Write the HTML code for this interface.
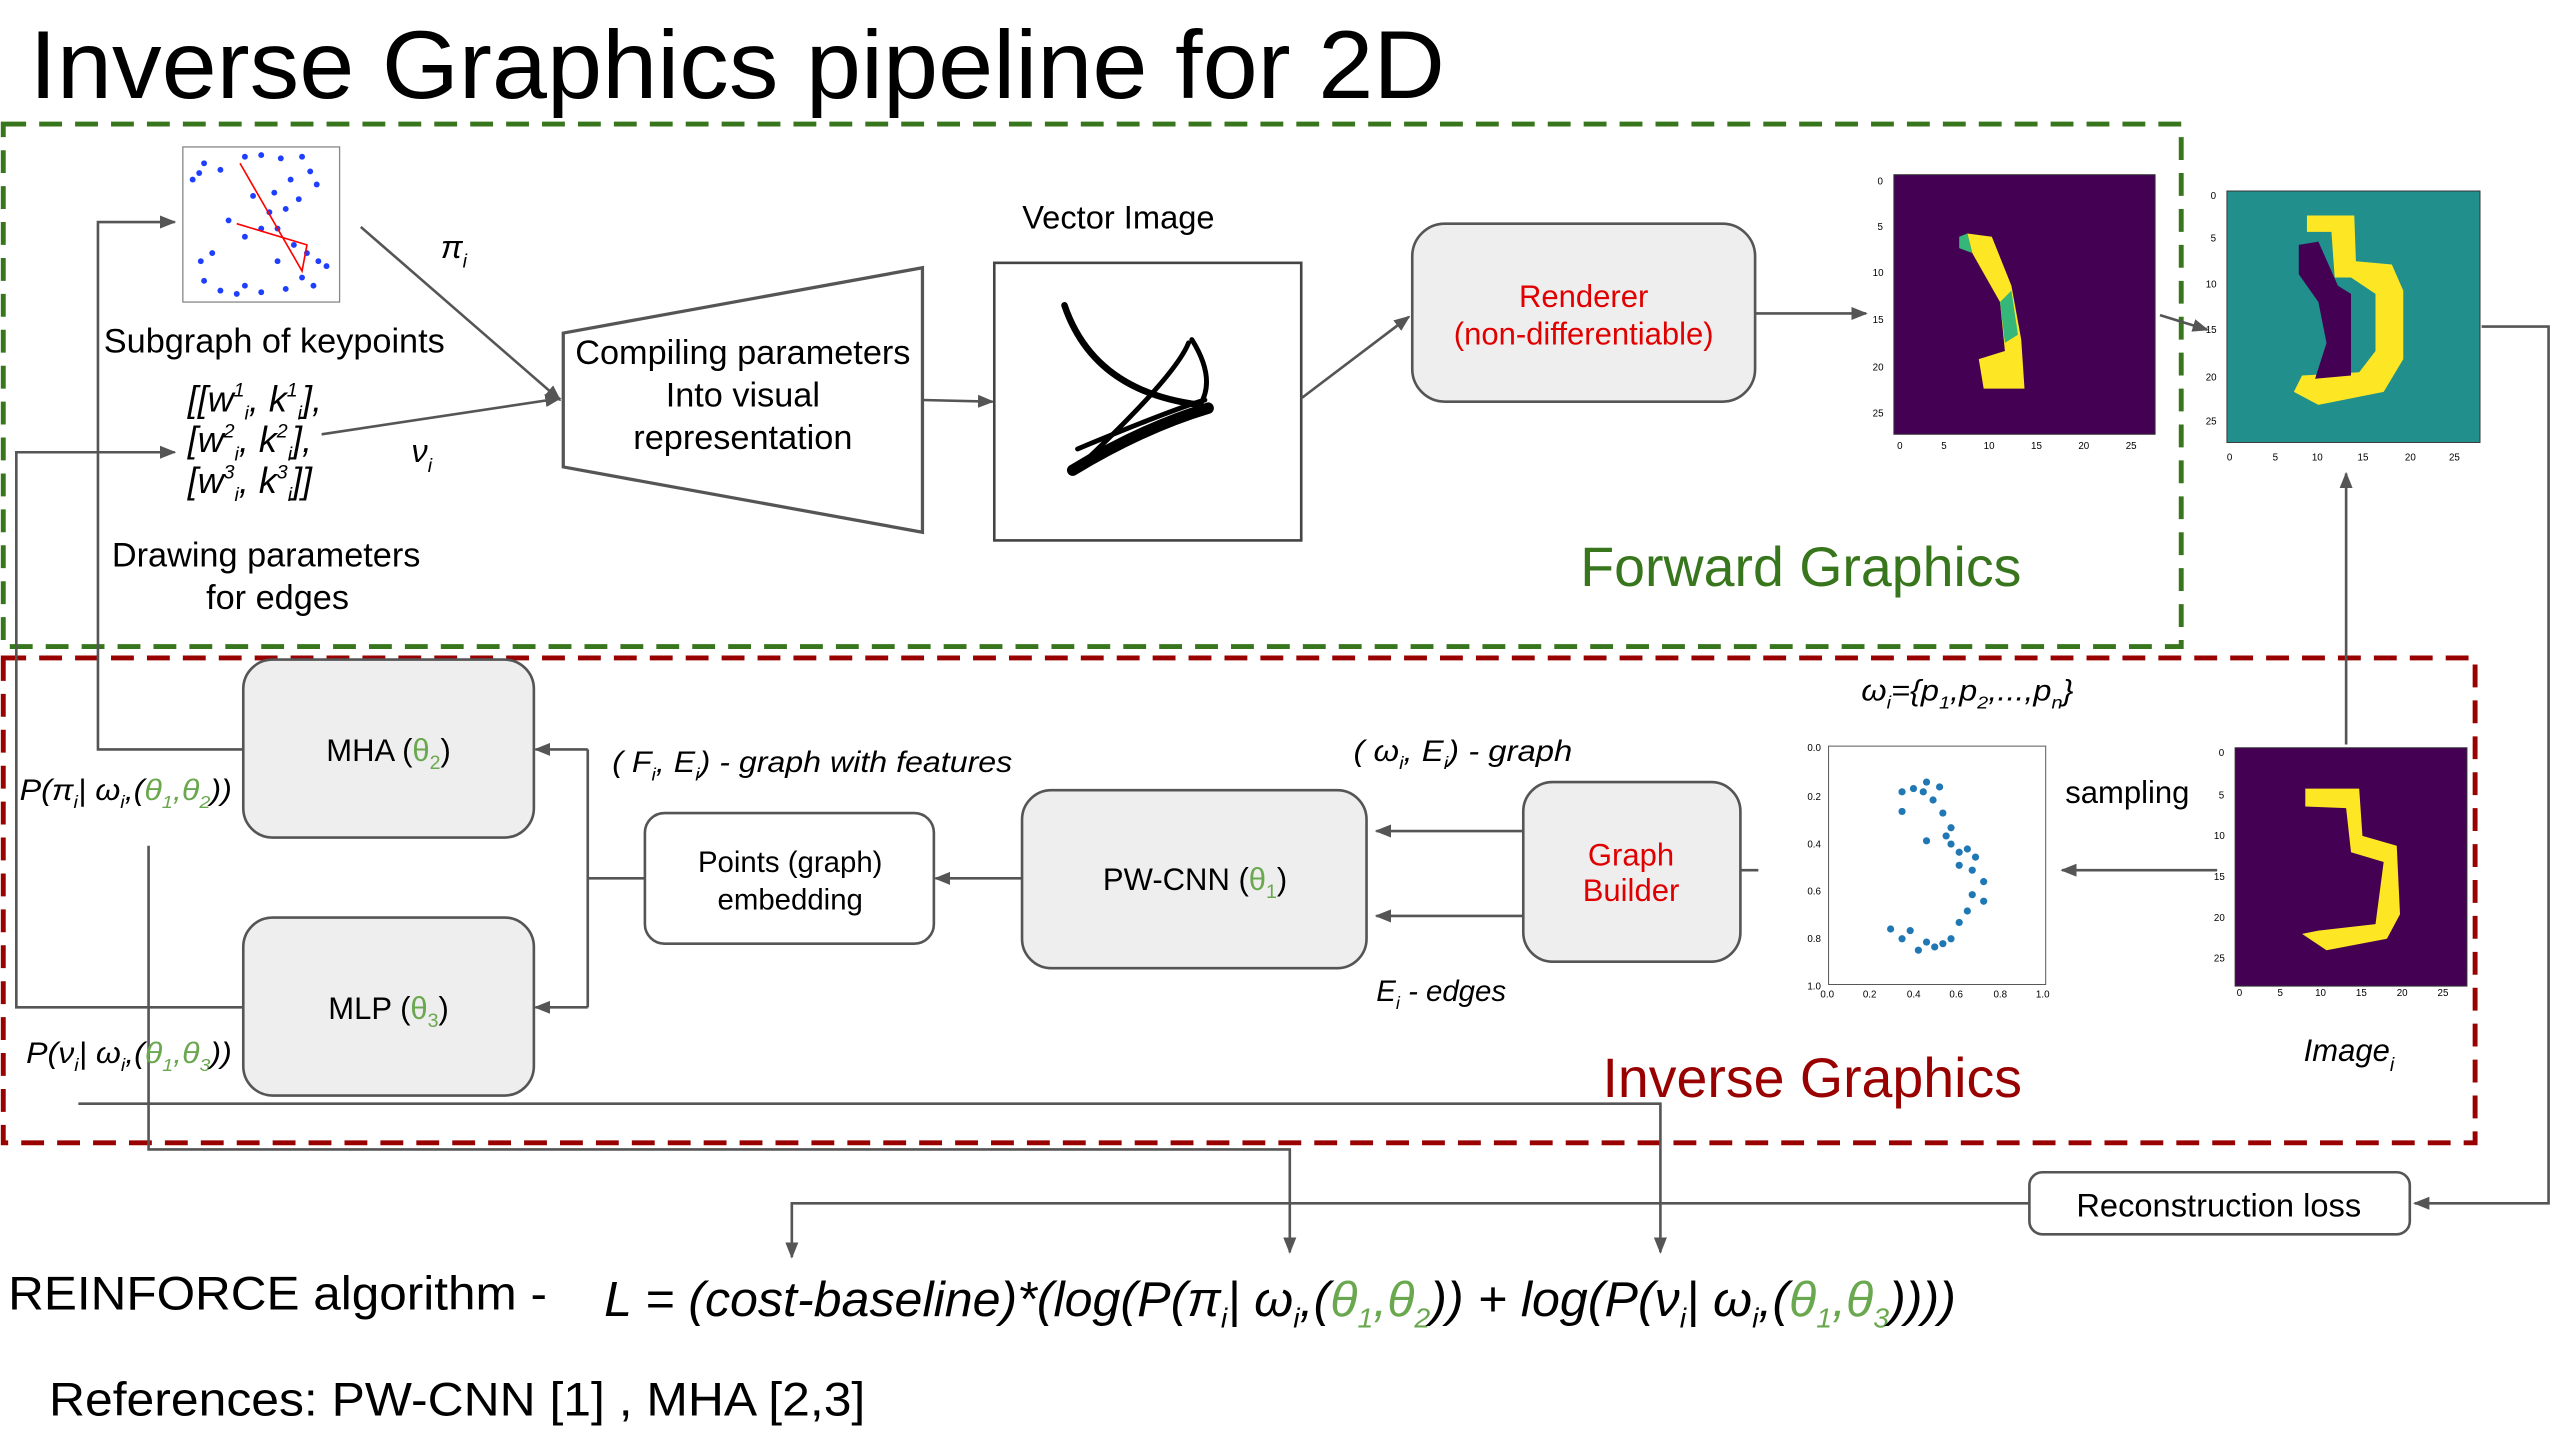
<!DOCTYPE html>
<html><head><meta charset="utf-8"><style>
html,body{margin:0;padding:0;background:#fff;}
svg{display:block;}
text{font-family:"Liberation Sans",Arial,sans-serif;fill:#000;}
.it{font-style:italic;}
.g{fill:#6aa84f;}
</style></head><body>
<svg width="2560" height="1440" viewBox="0 0 1568 882" xmlns="http://www.w3.org/2000/svg">
<defs>
<marker id="a" markerWidth="10" markerHeight="8" refX="9" refY="4" orient="auto" markerUnits="userSpaceOnUse"><path d="M0,0 L10,4 L0,8 z" fill="#555"/></marker>
</defs>
<text x="18" y="60" font-size="59" textLength="867" lengthAdjust="spacingAndGlyphs">Inverse Graphics pipeline for 2D</text>

<rect x="2" y="76" width="1334" height="320" fill="none" stroke="#38761d" stroke-width="3" stroke-dasharray="14 8"/>
<rect x="2" y="403" width="1514" height="297" fill="none" stroke="#990000" stroke-width="3" stroke-dasharray="14 8"/>

<rect x="112" y="90" width="96" height="95" fill="#fff" stroke="#888" stroke-width="0.8"/>
<g fill="#1f3fff">
<circle cx="125" cy="100" r="1.8"/><circle cx="135" cy="104" r="1.8"/><circle cx="150" cy="96" r="1.8"/><circle cx="160" cy="95" r="1.8"/><circle cx="172" cy="97" r="1.8"/><circle cx="185" cy="96" r="1.8"/><circle cx="190" cy="105" r="1.8"/><circle cx="194" cy="113" r="1.8"/><circle cx="118" cy="110" r="1.8"/><circle cx="122" cy="106" r="1.8"/><circle cx="178" cy="110" r="1.8"/><circle cx="183" cy="122" r="1.8"/><circle cx="175" cy="128" r="1.8"/><circle cx="165" cy="130" r="1.8"/><circle cx="160" cy="140" r="1.8"/><circle cx="150" cy="145" r="1.8"/><circle cx="170" cy="140" r="1.8"/><circle cx="180" cy="150" r="1.8"/><circle cx="188" cy="155" r="1.8"/><circle cx="195" cy="160" r="1.8"/><circle cx="200" cy="163" r="1.8"/><circle cx="185" cy="170" r="1.8"/><circle cx="175" cy="177" r="1.8"/><circle cx="160" cy="179" r="1.8"/><circle cx="145" cy="180" r="1.8"/><circle cx="135" cy="178" r="1.8"/><circle cx="125" cy="172" r="1.8"/><circle cx="123" cy="160" r="1.8"/><circle cx="130" cy="155" r="1.8"/><circle cx="140" cy="135" r="1.8"/><circle cx="155" cy="120" r="1.8"/><circle cx="168" cy="118" r="1.8"/><circle cx="192" cy="175" r="1.8"/><circle cx="150" cy="175" r="1.8"/><circle cx="170" cy="160" r="1.8"/>
</g>
<polyline points="147,100 185,166 188,150 145,137" fill="none" stroke="#f00" stroke-width="1"/>
<text x="168" y="216" font-size="21" text-anchor="middle">Subgraph of keypoints</text>

<text class="it" font-size="22"><tspan x="115" y="252">[[w<tspan font-size="12" dy="-9">1</tspan><tspan font-size="12" dy="14">i</tspan><tspan dy="-5">, k</tspan><tspan font-size="12" dy="-9">1</tspan><tspan font-size="12" dy="14">i</tspan><tspan dy="-5">],</tspan></tspan></text>
<text class="it" font-size="22"><tspan x="115" y="277">[w<tspan font-size="12" dy="-9">2</tspan><tspan font-size="12" dy="14">i</tspan><tspan dy="-5">, k</tspan><tspan font-size="12" dy="-9">2</tspan><tspan font-size="12" dy="14">i</tspan><tspan dy="-5">],</tspan></tspan></text>
<text class="it" font-size="22"><tspan x="115" y="302">[w<tspan font-size="12" dy="-9">3</tspan><tspan font-size="12" dy="14">i</tspan><tspan dy="-5">, k</tspan><tspan font-size="12" dy="-9">3</tspan><tspan font-size="12" dy="14">i</tspan><tspan dy="-5">]]</tspan></tspan></text>
<text x="163" y="347" font-size="21" text-anchor="middle">Drawing parameters</text>
<text x="170" y="373" font-size="21" text-anchor="middle">for edges</text>
<text class="it" x="270" y="158" font-size="20">π<tspan font-size="12" dy="6">i</tspan></text>
<text class="it" x="252" y="283" font-size="20">ν<tspan font-size="12" dy="6">i</tspan></text>

<g stroke="#555" stroke-width="1.6" fill="none">
<line x1="221" y1="139" x2="343" y2="245" marker-end="url(#a)"/>
<line x1="197" y1="266" x2="343" y2="244" marker-end="url(#a)"/>
<polygon points="345,204 565,164 565,326 345,286" stroke-width="2"/>
<line x1="565" y1="245" x2="608" y2="246" marker-end="url(#a)"/>
<rect x="609" y="161" width="188" height="170" stroke="#444"/>
<line x1="797" y1="244" x2="863" y2="194" marker-end="url(#a)"/>
<line x1="1075" y1="192" x2="1143" y2="192" marker-end="url(#a)"/>
<line x1="1323" y1="193" x2="1352" y2="202" marker-end="url(#a)"/>
<polyline points="1520,200 1561,200 1561,737 1479,737" marker-end="url(#a)"/>
<line x1="1437" y1="456" x2="1437" y2="290" marker-end="url(#a)"/>
<line x1="1358" y1="533" x2="1263" y2="533" marker-end="url(#a)"/>
<line x1="1077" y1="533" x2="1041" y2="533" marker-end="url(#a)"/>
<line x1="933" y1="509" x2="843" y2="509" marker-end="url(#a)"/>
<line x1="933" y1="561" x2="843" y2="561" marker-end="url(#a)"/>
<line x1="626" y1="538" x2="573" y2="538" marker-end="url(#a)"/>
<polyline points="395,538 360,538"/>
<polyline points="360,459 360,617"/>
<line x1="360" y1="459" x2="328" y2="459" marker-end="url(#a)"/>
<line x1="360" y1="617" x2="328" y2="617" marker-end="url(#a)"/>
<polyline points="149,459 60,459 60,136 107,136" marker-end="url(#a)"/>
<polyline points="149,617 10,617 10,277 107,277" marker-end="url(#a)"/>
<polyline points="91,518 91,704 790,704 790,767" marker-end="url(#a)"/>
<polyline points="48,676 1017,676 1017,767" marker-end="url(#a)"/>
<polyline points="1243,737 485,737 485,770" marker-end="url(#a)"/>
</g>

<g stroke="#000" fill="none" stroke-linecap="round">
<path d="M652,187 Q670,240 735,248" stroke-width="4"/>
<path d="M735,248 Q745,232 730,208" stroke-width="3"/>
<path d="M657,288 Q700,262 740,250" stroke-width="7"/>
<path d="M665,282 Q720,230 728,210" stroke-width="3"/>
<path d="M660,275 Q720,250 738,245" stroke-width="3"/>
</g>
<text x="685" y="140" font-size="20" text-anchor="middle">Vector Image</text>
<text x="455" y="223" font-size="21" text-anchor="middle">Compiling parameters</text>
<text x="455" y="249" font-size="21" text-anchor="middle">Into visual</text>
<text x="455" y="275" font-size="21" text-anchor="middle">representation</text>

<g fill="#eeeeee" stroke="#555" stroke-width="1.6">
<rect x="865" y="137" width="210" height="109" rx="20"/>
<rect x="933" y="479" width="133" height="110" rx="18"/>
<rect x="626" y="484" width="211" height="109" rx="18"/>
<rect x="149" y="404" width="178" height="109" rx="18"/>
<rect x="149" y="562" width="178" height="109" rx="18"/>
<rect x="395" y="498" width="177" height="80" rx="12" fill="#fff"/>
<rect x="1243" y="718" width="233" height="38" rx="8" fill="#fff"/>
</g>
<text x="970" y="188" font-size="19" text-anchor="middle" style="fill:#e00000">Renderer</text>
<text x="970" y="211" font-size="19" text-anchor="middle" style="fill:#e00000">(non-differentiable)</text>
<text x="999" y="530" font-size="19" text-anchor="middle" style="fill:#e00000">Graph</text>
<text x="999" y="552" font-size="19" text-anchor="middle" style="fill:#e00000">Builder</text>
<text x="732" y="545" font-size="19" text-anchor="middle">PW-CNN (<tspan class="g">θ</tspan><tspan class="g" font-size="12" dy="5">1</tspan><tspan dy="-5">)</tspan></text>
<text x="484" y="534" font-size="18" text-anchor="middle">Points (graph)</text>
<text x="484" y="557" font-size="18" text-anchor="middle">embedding</text>
<text x="238" y="466" font-size="19" text-anchor="middle">MHA (<tspan class="g">θ</tspan><tspan class="g" font-size="12" dy="5">2</tspan><tspan dy="-5">)</tspan></text>
<text x="238" y="624" font-size="19" text-anchor="middle">MLP (<tspan class="g">θ</tspan><tspan class="g" font-size="12" dy="5">3</tspan><tspan dy="-5">)</tspan></text>
<text x="1359" y="745" font-size="20" text-anchor="middle">Reconstruction loss</text>

<text class="it" x="375" y="473" font-size="18" textLength="245" lengthAdjust="spacingAndGlyphs">( F<tspan font-size="11" dy="5">i</tspan><tspan dy="-5">, E</tspan><tspan font-size="11" dy="5">i</tspan><tspan dy="-5">) - graph with features</tspan></text>
<text class="it" x="829" y="466" font-size="18" textLength="134" lengthAdjust="spacingAndGlyphs">( ω<tspan font-size="11" dy="5">i</tspan><tspan dy="-5">, E</tspan><tspan font-size="11" dy="5">i</tspan><tspan dy="-5">) - graph</tspan></text>
<text class="it" x="843" y="613" font-size="18">E<tspan font-size="11" dy="5">i</tspan><tspan dy="-5"> - edges</tspan></text>
<text class="it" x="1140" y="429" font-size="18" textLength="130" lengthAdjust="spacingAndGlyphs">ω<tspan font-size="11" dy="5">i</tspan><tspan dy="-5">={p</tspan><tspan font-size="11" dy="5">1</tspan><tspan dy="-5">,p</tspan><tspan font-size="11" dy="5">2</tspan><tspan dy="-5">,...,p</tspan><tspan font-size="11" dy="5">n</tspan><tspan dy="-5">}</tspan></text>
<text x="1303" y="492" font-size="19" text-anchor="middle">sampling</text>
<text class="it" x="1411" y="650" font-size="19">Image<tspan font-size="12" dy="6">i</tspan></text>
<text class="it" x="12" y="490" font-size="18" textLength="130" lengthAdjust="spacingAndGlyphs">P(π<tspan font-size="11" dy="5">i</tspan><tspan dy="-5">| ω</tspan><tspan font-size="11" dy="5">i</tspan><tspan dy="-5">,(</tspan><tspan class="g">θ</tspan><tspan class="g" font-size="11" dy="5">1</tspan><tspan class="g" dy="-5">,θ</tspan><tspan class="g" font-size="11" dy="5">2</tspan><tspan dy="-5">))</tspan></text>
<text class="it" x="16" y="651" font-size="18" textLength="126" lengthAdjust="spacingAndGlyphs">P(ν<tspan font-size="11" dy="5">i</tspan><tspan dy="-5">| ω</tspan><tspan font-size="11" dy="5">i</tspan><tspan dy="-5">,(</tspan><tspan class="g">θ</tspan><tspan class="g" font-size="11" dy="5">1</tspan><tspan class="g" dy="-5">,θ</tspan><tspan class="g" font-size="11" dy="5">3</tspan><tspan dy="-5">))</tspan></text>

<text x="1103" y="359" font-size="34" text-anchor="middle" style="fill:#38761d">Forward Graphics</text>
<text x="1110" y="672" font-size="34" text-anchor="middle" style="fill:#990000">Inverse Graphics</text>

<g font-size="6" fill="#000">
<rect x="1160" y="107" width="160" height="159" fill="#440154" stroke="#333" stroke-width="0.6"/>
<path d="M1205,143 L1220,145 L1232,175 L1238,208 L1240,238 L1215,238 L1212,220 L1228,215 L1225,185 L1208,155 Z" fill="#fde725"/>
<path d="M1200,145 L1205,143 L1208,155 L1200,152 Z M1225,185 L1232,178 L1236,205 L1228,210 Z" fill="#35b779"/>
<text x="1150" y="113">0</text><text x="1150" y="141">5</text><text x="1147" y="169">10</text><text x="1147" y="198">15</text><text x="1147" y="227">20</text><text x="1147" y="255">25</text>
<text x="1162" y="275">0</text><text x="1189" y="275">5</text><text x="1215" y="275">10</text><text x="1244" y="275">15</text><text x="1273" y="275">20</text><text x="1302" y="275">25</text>

<rect x="1364" y="117" width="155" height="154" fill="#21908d" stroke="#333" stroke-width="0.6"/>
<path d="M1413,132 L1442,132 L1443,160 L1465,162 L1472,178 L1472,220 L1460,240 L1420,248 L1405,240 L1410,230 L1445,228 L1455,215 L1455,180 L1440,170 L1430,170 L1428,142 L1413,142 Z" fill="#fde725"/>
<path d="M1408,150 L1420,148 L1432,175 L1440,180 L1440,230 L1418,232 L1425,210 L1420,185 L1408,168 Z" fill="#440154"/>
<text x="1354" y="122">0</text><text x="1354" y="148">5</text><text x="1351" y="176">10</text><text x="1351" y="204">15</text><text x="1351" y="233">20</text><text x="1351" y="260">25</text>
<text x="1364" y="282">0</text><text x="1392" y="282">5</text><text x="1416" y="282">10</text><text x="1444" y="282">15</text><text x="1473" y="282">20</text><text x="1500" y="282">25</text>

<rect x="1369" y="458" width="142" height="146" fill="#440154" stroke="#333" stroke-width="0.6"/>
<path d="M1412,483 L1445,483 L1447,512 L1468,518 L1470,560 L1462,575 L1425,582 L1410,572 L1420,570 L1455,566 L1460,528 L1440,522 L1437,495 L1412,494 Z" fill="#fde725"/>
<text x="1359" y="463">0</text><text x="1359" y="489">5</text><text x="1356" y="514">10</text><text x="1356" y="539">15</text><text x="1356" y="564">20</text><text x="1356" y="589">25</text>
<text x="1370" y="610">0</text><text x="1395" y="610">5</text><text x="1418" y="610">10</text><text x="1443" y="610">15</text><text x="1468" y="610">20</text><text x="1493" y="610">25</text>

<rect x="1120" y="457" width="133" height="146" fill="#fff" stroke="#555" stroke-width="0.6"/>
<text x="1107" y="460">0.0</text><text x="1107" y="490">0.2</text><text x="1107" y="519">0.4</text><text x="1107" y="548">0.6</text><text x="1107" y="577">0.8</text><text x="1107" y="606">1.0</text>
<text x="1115" y="611">0.0</text><text x="1141" y="611">0.2</text><text x="1168" y="611">0.4</text><text x="1194" y="611">0.6</text><text x="1221" y="611">0.8</text><text x="1247" y="611">1.0</text>
</g>
<g fill="#1f77b4">
<circle cx="1165" cy="485" r="2.2"/><circle cx="1172" cy="483" r="2.2"/><circle cx="1180" cy="479" r="2.2"/><circle cx="1188" cy="482" r="2.2"/><circle cx="1184" cy="490" r="2.2"/><circle cx="1165" cy="497" r="2.2"/><circle cx="1190" cy="498" r="2.2"/><circle cx="1195" cy="507" r="2.2"/><circle cx="1192" cy="512" r="2.2"/><circle cx="1180" cy="515" r="2.2"/><circle cx="1195" cy="517" r="2.2"/><circle cx="1205" cy="520" r="2.2"/><circle cx="1200" cy="522" r="2.2"/><circle cx="1210" cy="525" r="2.2"/><circle cx="1208" cy="533" r="2.2"/><circle cx="1215" cy="540" r="2.2"/><circle cx="1208" cy="548" r="2.2"/><circle cx="1215" cy="552" r="2.2"/><circle cx="1205" cy="558" r="2.2"/><circle cx="1200" cy="565" r="2.2"/><circle cx="1195" cy="575" r="2.2"/><circle cx="1185" cy="580" r="2.2"/><circle cx="1175" cy="582" r="2.2"/><circle cx="1165" cy="575" r="2.2"/><circle cx="1158" cy="569" r="2.2"/><circle cx="1170" cy="570" r="2.2"/><circle cx="1180" cy="577" r="2.2"/><circle cx="1190" cy="578" r="2.2"/><circle cx="1178" cy="485" r="2.2"/><circle cx="1200" cy="530" r="2.2"/>
</g>

<text x="5" y="802" font-size="29" textLength="330" lengthAdjust="spacingAndGlyphs">REINFORCE algorithm -</text>
<text class="it" x="370" y="806" font-size="30" textLength="828" lengthAdjust="spacingAndGlyphs">L = (cost-baseline)*(log(P(π<tspan font-size="17" dy="7">i</tspan><tspan dy="-7">| ω</tspan><tspan font-size="17" dy="7">i</tspan><tspan dy="-7">,(</tspan><tspan class="g">θ</tspan><tspan class="g" font-size="17" dy="7">1</tspan><tspan class="g" dy="-7">,θ</tspan><tspan class="g" font-size="17" dy="7">2</tspan><tspan dy="-7">)) + log(P(ν</tspan><tspan font-size="17" dy="7">i</tspan><tspan dy="-7">| ω</tspan><tspan font-size="17" dy="7">i</tspan><tspan dy="-7">,(</tspan><tspan class="g">θ</tspan><tspan class="g" font-size="17" dy="7">1</tspan><tspan class="g" dy="-7">,θ</tspan><tspan class="g" font-size="17" dy="7">3</tspan><tspan dy="-7">))))</tspan></text>
<text x="30" y="867" font-size="29" textLength="500" lengthAdjust="spacingAndGlyphs">References: PW-CNN [1] , MHA [2,3]</text>
</svg>
</body></html>
